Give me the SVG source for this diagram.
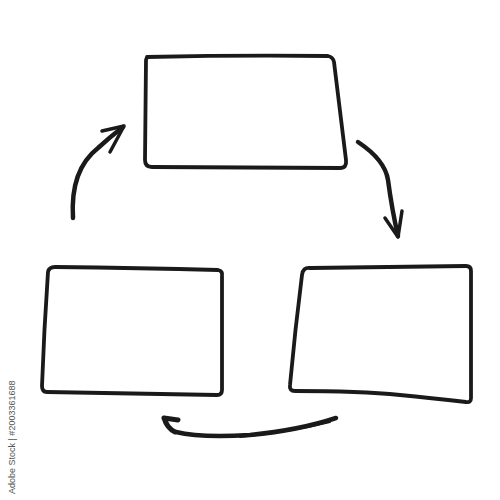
<svg xmlns="http://www.w3.org/2000/svg" width="500" height="500" viewBox="0 0 500 500">
<style>
.box{fill:none;stroke:#1a1a1a;stroke-width:3.8;stroke-linejoin:round;stroke-linecap:round}
.arr{fill:none;stroke:#1a1a1a;stroke-linecap:round;stroke-linejoin:round}
.wm{font-family:"Liberation Sans",Arial,sans-serif;font-size:9px;fill:#555}
</style>
<rect width="500" height="500" fill="#fff"/>
<g id="node-top">
<path class="box" d="M146,60 L147,57 Q240,55 328,56 Q333,57 334,62 L346,160 Q347,168 340,168 L152,167 Q145,167 145,160 Z"/>
</g>
<g id="node-left">
<path class="box" d="M48,272 Q49,267 55,267 Q140,268 218,270 Q223,271 222,276 L222,390 Q222,395 217,395 L47,392 Q42,392 42,386 Q44,330 48,272 Z"/>
</g>
<g id="node-right">
<path class="box" d="M302,275 Q303,267 310,268 Q390,267 466,266 Q471,266 471,271 L471,398 Q471,403 466,402 Q430,398 400,395 Q360,391 295,391 Q289,391 290,385 Q295,330 302,275 Z"/>
</g>
<g id="connectors">
<path class="arr" stroke-width="4.5" d="M73,218 Q70,170 98,148 Q110,137 123,127"/>
<path class="arr" stroke-width="3.5" d="M124,126 L102,131 M124,126 L110,152"/>
<path class="arr" stroke-width="4.5" d="M358,142 Q385,160 388,180 Q392,210 398,236"/>
<path class="arr" stroke-width="3.5" d="M398,237 L385,218 M398,237 L402,211"/>
<path class="arr" stroke-width="4.5" d="M336,418 Q300,430 250,435 Q200,438 176,432"/>
<path class="arr" stroke-width="2" d="M330,422 Q290,432 240,437"/>
<path class="arr" stroke-width="5" d="M164,418 L178,420 M164,418 Q167,428 175,432"/>
</g>
<text class="wm" transform="translate(15,494) rotate(-90)">Adobe Stock | #2003361688</text>
</svg>
